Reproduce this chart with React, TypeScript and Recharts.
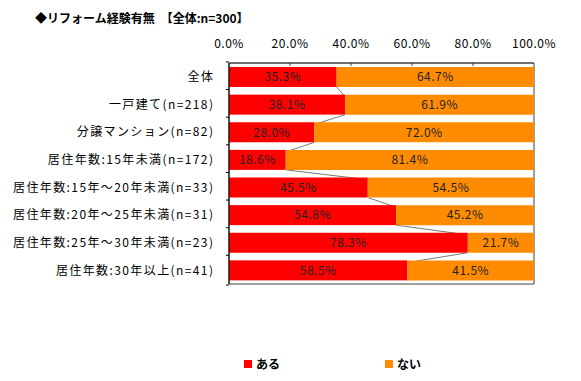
import { BarChart, Bar, XAxis, YAxis, LabelList, ReferenceArea, Legend } from "recharts";

const categories = [
  "全体",
  "一戸建て(n=218)",
  "分譲マンション(n=82)",
  "居住年数:15年未満(n=172)",
  "居住年数:15年～20年未満(n=33)",
  "居住年数:20年～25年未満(n=31)",
  "居住年数:25年～30年未満(n=23)",
  "居住年数:30年以上(n=41)",
];
const aru = [35.3, 38.1, 28.0, 18.6, 45.5, 54.8, 78.3, 58.5];
const nai = [64.7, 61.9, 72.0, 81.4, 54.5, 45.2, 21.7, 41.5];
const xTicks = [0, 20, 40, 60, 80, 100];

const data = categories.map((name, i) => ({ name, aru: aru[i], nai: nai[i] }));

const W = 581;
const H = 381;
const M = { top: 33, right: 47, bottom: 80, left: 0 };
const X_AXIS_H = 30;
const Y_AXIS_W = 229;
const PLOT_H = H - M.top - M.bottom - X_AXIS_H;
const BAND = PLOT_H / categories.length;
const FONT = "'Noto Sans CJK JP', 'Noto Sans', sans-serif";

const RED = "#FF0000";
const ORANGE = "#FF8C00";
const BORDER = "#404040";
const CAT_SPACING = 1.4;

const fmt = (v: number) => v.toFixed(1) + "%";

// red bar + the Excel-style series line to the next bar
function RedBar(props: any) {
  const { x, y, width, height, index } = props;
  const next = aru[index + 1];
  let line = null;
  if (next !== undefined && aru[index] > 0) {
    const nx = x + (width * next) / aru[index];
    line = (
      <line x1={x + width} y1={y + height} x2={nx} y2={y + BAND} stroke="#7a7a7a" strokeWidth={1} />
    );
  }
  return (
    <g>
      <rect x={x} y={y} width={width} height={height} fill={RED} />
      {line}
    </g>
  );
}

function CatTick(props: any) {
  const { x, y, payload, index } = props;
  return (
    <g>
      <text
        x={x + CAT_SPACING}
        y={y}
        dy="0.36em"
        textAnchor="end"
        fontSize={12}
        fill="#000"
        fontFamily={FONT}
        letterSpacing={CAT_SPACING}
      >
        {payload.value}
      </text>
      <line x1={x + 13} x2={x + 16} y1={y - BAND / 2} y2={y - BAND / 2} stroke="#000" />
      {index === categories.length - 1 && (
        <line x1={x + 13} x2={x + 16} y1={y + BAND / 2} y2={y + BAND / 2} stroke="#000" />
      )}
    </g>
  );
}

function PctTick(props: any) {
  const { x, y, payload } = props;
  return (
    <g>
      <text x={x} y={y} textAnchor="middle" fontSize={12} fill="#000" fontFamily={FONT} letterSpacing={0.5}>
        {fmt(payload.value)}
      </text>
      {payload.value > 0 && payload.value < 100 && (
        <line x1={x} x2={x} y1={y + 15} y2={y + 18} stroke={BORDER} />
      )}
    </g>
  );
}

function LegendBox() {
  const item = (color: string, label: string, ml: number) => (
    <div style={{ display: "flex", alignItems: "center", marginLeft: ml }}>
      <span style={{ width: 8, height: 8, background: color, display: "inline-block", marginRight: 4 }} />
      <span style={{ fontSize: 12, fontWeight: 700, color: "#000", fontFamily: FONT }}>{label}</span>
    </div>
  );
  return (
    <div style={{ display: "flex", alignItems: "center" }}>
      {item(RED, "ある", 244)}
      {item(ORANGE, "ない", 105)}
    </div>
  );
}

export default function App() {
  return (
    <div style={{ position: "absolute", left: 0, top: 0, width: W, height: H, background: "#fff", fontFamily: FONT }}>
      <div style={{ position: "absolute", left: 35, top: 9, fontSize: 12, fontWeight: 700, color: "#000", whiteSpace: "pre" }}>
        {"◆リフォーム経験有無　【全体:n=300】"}
      </div>
      <BarChart width={W} height={H} data={data} layout="vertical" margin={M} barSize={20}>
        <XAxis
          type="number"
          orientation="top"
          domain={[0, 100]}
          ticks={xTicks}
          height={X_AXIS_H}
          tickSize={0}
          tickMargin={15}
          tick={<PctTick />}
          axisLine={{ stroke: BORDER }}
          allowDataOverflow
        />
        <YAxis
          type="category"
          dataKey="name"
          width={Y_AXIS_W}
          tickSize={0}
          tickMargin={16}
          tick={<CatTick />}
          axisLine={{ stroke: "#000" }}
          interval={0}
        />
        <ReferenceArea
          x1={0}
          x2={100}
          y1={categories[0]}
          y2={categories[categories.length - 1]}
          fill="none"
          stroke={BORDER}
          ifOverflow="visible"
        />
        <Bar dataKey="aru" stackId="a" fill={RED} shape={<RedBar />} isAnimationActive={false}>
          <LabelList dataKey="aru" position="center" formatter={(v: any) => fmt(Number(v))} fontSize={12} fill="#222" fontFamily={FONT} letterSpacing={0.5} />
        </Bar>
        <Bar dataKey="nai" stackId="a" fill={ORANGE} isAnimationActive={false}>
          <LabelList dataKey="nai" position="center" formatter={(v: any) => fmt(Number(v))} fontSize={12} fill="#222" fontFamily={FONT} letterSpacing={0.5} />
        </Bar>
        <Legend content={<LegendBox />} wrapperStyle={{ left: 0, top: 355, width: W }} />
      </BarChart>
    </div>
  );
}
